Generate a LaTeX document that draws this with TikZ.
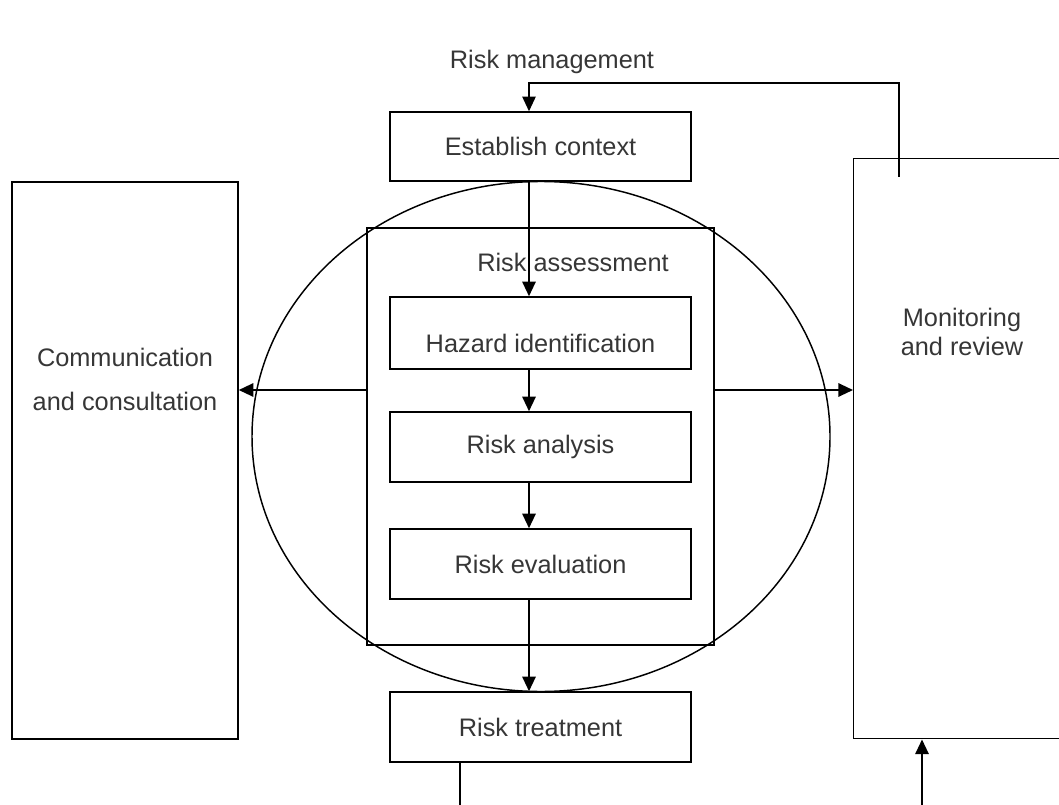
\documentclass[tikz,border=0pt]{standalone}
\usepackage{fontspec}
\setmainfont{Liberation Sans}
\usepackage{xcolor}
\usetikzlibrary{arrows.meta}
\definecolor{txtgray}{HTML}{363636}

\begin{document}
\begin{tikzpicture}[x=0.75pt, y=-0.75pt, line width=1.1pt,
    >={Triangle[length=11pt, width=10pt]},
    stagebox/.style={draw, inner sep=0pt, minimum width=301*0.75pt, minimum height=70*0.75pt},
    lbl/.style={text=txtgray, font=\fontsize{19}{22}\selectfont, align=center},
    flow/.style={->, line width=1.5pt}]
    \useasboundingbox (0,0) rectangle (1059,805);
    \clip (0,0) rectangle (1059,805);

    % Title
    \node[lbl] (title) at (552,62) {Risk management};

    % Side boxes
    \node[draw, inner sep=0pt, minimum width=226*0.75pt, minimum height=557*0.75pt] (comm) at (125,460.5) {};
    \node[lbl, font=\fontsize{19}{33}\selectfont] (commtxt) at (125,379) {Communication\\and consultation};
    \node[draw, inner sep=0pt, minimum width=240*0.75pt, minimum height=580*0.75pt, anchor=north west] (mon) at (853,158) {};
    \node[lbl] (montxt) at (962,332) {Monitoring\\and review};

    % Ellipse round the assessment
    \draw (541,436.5) ellipse [x radius=289, y radius=255];

    % Risk assessment frame
    \node[draw, inner sep=0pt, minimum width=347*0.75pt, minimum height=417*0.75pt] (assess) at (540.5,436.5) {};
    \node[lbl] (assesstxt) at (573,262) {Risk assessment};

    % Process steps
    \node[stagebox, lbl, minimum height=69*0.75pt] (ctx) at (540.5,146.5) {Establish context};
    \node[stagebox, minimum height=72*0.75pt] (hazard) at (540.5,333) {};
    \node[lbl] (hazardtxt) at (540.5,343) {Hazard identification};
    \node[stagebox, lbl] (analysis) at (540.5,447) {Risk analysis};
    \node[stagebox, lbl] (evaluation) at (540.5,564) {Risk evaluation};
    \node[stagebox, lbl] (treatment) at (540.5,727) {Risk treatment};

    % Helper coordinates for the connector lines
    \coordinate (ax) at (529,0);
    \coordinate (ay) at (0,390);
    \coordinate (fb) at (899,177);
    \coordinate (fbtop) at (899,83);
    \coordinate (treatout) at (460,815);
    \coordinate (monin) at (922,815);

    % Main flow
    \draw[flow] (ctx.south -| ax) -- (hazard.north -| ax);
    \draw[flow] (hazard.south -| ax) -- (analysis.north -| ax);
    \draw[flow] (analysis.south -| ax) -- (evaluation.north -| ax);
    \draw[flow] (evaluation.south -| ax) -- (treatment.north -| ax);

    % Side arrows
    \draw[flow] (assess.west |- ay) -- (comm.east |- ay);
    \draw[flow] (assess.east |- ay) -- (mon.west |- ay);

    % Feedback loop
    \draw[flow, line width=1.2pt] (fb) -- (fbtop) -| (ctx.north -| ax);
    \draw (treatment.south -| treatout) -- (treatout);
    \draw[flow] (monin) -- (mon.south -| monin);
\end{tikzpicture}
\end{document}
